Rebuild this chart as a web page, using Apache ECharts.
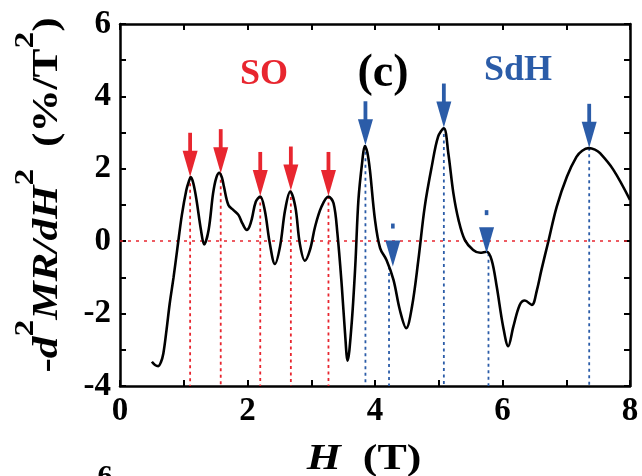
<!DOCTYPE html>
<html>
<head>
<meta charset="utf-8">
<script src="https://cdn.jsdelivr.net/npm/echarts@6/dist/echarts.min.js"></script>
<style>
html,body{margin:0;padding:0;background:#fff;}
#c{width:642px;height:476px;}
</style>
</head>
<body>
<div id="c"></div>
<script>
// Field H (T)
const H = [0.50,0.55,0.60,0.64,0.68,0.73,0.78,0.84,0.90,0.97,1.04,1.08,1.11,1.15,1.20,1.27,1.32,1.39,1.46,1.51,1.56,1.60,1.63,1.70,1.78,1.86,1.92,1.99,2.03,2.07,2.13,2.20,2.27,2.35,2.43,2.51,2.59,2.67,2.75,2.82,2.90,2.98,3.06,3.16,3.27,3.35,3.41,3.48,3.53,3.57,3.63,3.69,3.74,3.80,3.84,3.88,3.92,4.00,4.08,4.18,4.29,4.39,4.49,4.58,4.68,4.78,4.89,4.99,5.08,5.15,5.23,5.31,5.41,5.54,5.65,5.75,5.83,5.91,6.01,6.09,6.17,6.27,6.35,6.46,6.54,6.61,6.72,6.85,7.01,7.16,7.25,7.35,7.45,7.53,7.74,8.00];
// -d2MR/dH2 (%/T^2)
const D2MR = [-3.33,-3.42,-3.45,-3.35,-3.10,-2.45,-1.72,-1.00,-0.20,0.72,1.41,1.65,1.77,1.60,1.14,0.31,-0.09,0.31,1.32,1.75,1.89,1.75,1.51,1.00,0.86,0.72,0.49,0.31,0.40,0.63,1.09,1.23,0.86,-0.06,-0.63,-0.15,0.86,1.37,0.95,-0.06,-0.54,-0.24,0.40,0.95,1.23,1.05,0.22,-1.26,-2.54,-3.30,-2.36,-0.70,1.14,2.20,2.63,2.45,1.97,0.59,-0.19,-0.52,-1.07,-1.90,-2.40,-1.81,-0.52,0.95,2.06,2.89,3.12,2.43,1.32,0.59,0.03,-0.24,-0.32,-0.29,-0.52,-1.26,-2.36,-2.90,-2.36,-1.76,-1.64,-1.76,-1.35,-0.80,0.00,0.95,1.78,2.33,2.50,2.57,2.53,2.43,1.97,1.14];

// SO peaks (red arrows)
const soH = [1.10, 1.58, 2.20, 2.68, 3.27];
const soV = [1.78, 1.88, 1.25, 1.40, 1.25];
// SdH features (blue arrows)
const sdhH = [3.85, 4.22, 5.08, 5.78, 7.36];
const sdhArrowH = [3.85, 4.28, 5.08, 5.75, 7.36];
const sdhV = [2.65, -0.70, 3.14, -0.33, 2.58];
const sdhTentative = [0, 1, 0, 1, 0];

const xTicks = [0, 2, 4, 6, 8];
const yTicks = [-4, -2, 0, 2, 4, 6];

const RED = '#e8262f';
const BLUE = '#2b5ca8';
const FONT = 'Liberation Serif';

const chart = echarts.init(document.getElementById('c'), null, {renderer: 'canvas'});

function xLabel(v) { return xTicks.indexOf(v) >= 0 ? String(v) : ''; }
function yLabel(v) { return yTicks.indexOf(v) >= 0 ? String(v) : ''; }

const axisCommon = {
  axisLine: {show: true, onZero: false, lineStyle: {color: '#000', width: 2.5}},
  axisTick: {show: true, inside: true, length: 6, lineStyle: {color: '#000', width: 2}},
  splitLine: {show: false}
};

function vLine(color) {
  return function (params, api) {
    const p1 = api.coord([api.value(0), api.value(1)]);
    const p2 = api.coord([api.value(0), -4]);
    return {type: 'line', shape: {x1: p1[0], y1: p1[1], x2: p2[0], y2: p2[1]},
      style: {stroke: color, lineWidth: 1.8, lineDash: [3, 3.5]}};
  };
}

function arrow(color) {
  return function (params, api) {
    const p = api.coord([api.value(0), api.value(1)]);
    const tentative = api.value(2);
    const hw = 7.5, hh = 26;
    const children = [{
      type: 'polygon',
      shape: {points: [[p[0] - hw, p[1] - hh], [p[0] + hw, p[1] - hh], [p[0], p[1]]]},
      style: {fill: color}
    }];
    if (tentative) {
      children.push({type: 'rect', shape: {x: p[0] - 1.8, y: p[1] - 43, width: 3.6, height: 5}, style: {fill: color}});
    } else {
      children.push({type: 'rect', shape: {x: p[0] - 1.9, y: p[1] - 44, width: 3.8, height: 19}, style: {fill: color}});
    }
    return {type: 'group', children: children};
  };
}

// Build a text run with superscripts (measured with canvas)
const mctx = document.createElement('canvas').getContext('2d');
function measure(t, font) { mctx.font = font; return mctx.measureText(t).width; }
const FN = 'bold 36px "Liberation Serif"';
const FI = 'italic bold 36px "Liberation Serif"';
const FS = 'bold 28px "Liberation Serif"';
const yTitleTokens = [['-', FN, 0], ['d', FI, 0], ['2', FS, 1], ['MR/dH', FI, 0], ['2', FS, 1], ['  (%/T', FN, 0], ['2', FS, 1], [')', FN, 0]];
function buildRun(tokens) {
  let total = 0;
  const widths = tokens.map(t => { const w = measure(t[0], t[1]); total += w; return w; });
  let x = -total / 2;
  return tokens.map((t, i) => {
    const el = {type: 'text', x: x, y: t[2] ? -22 : 0,
      style: {text: t[0], font: t[1], fill: '#000', align: 'left', verticalAlign: 'middle'}};
    x += widths[i];
    return el;
  });
}

const labelFont = {color: '#000', fontFamily: FONT, fontWeight: 'bold', fontSize: 33};

const option = {
  animation: false,
  backgroundColor: '#fff',
  grid: {left: 120, right: 12, top: 24, bottom: 90, containLabel: false},
  xAxis: [
    Object.assign({}, axisCommon, {
      type: 'value', position: 'bottom', min: 0, max: 8, interval: 1,
      axisLabel: Object.assign({show: true, margin: 9, formatter: xLabel}, labelFont)
    }),
    Object.assign({}, axisCommon, {
      type: 'value', position: 'top', min: 0, max: 8, interval: 1,
      axisLabel: {show: false}
    })
  ],
  yAxis: [
    Object.assign({}, axisCommon, {
      type: 'value', position: 'left', min: -4, max: 6, interval: 1,
      axisLabel: Object.assign({show: true, margin: 9, formatter: yLabel}, labelFont)
    }),
    Object.assign({}, axisCommon, {
      type: 'value', position: 'right', min: -4, max: 6, interval: 1,
      axisLabel: {show: false}
    })
  ],
  series: [
    {
      type: 'custom', name: 'SO lines', renderItem: vLine(RED), z: 2,
      data: soH.map((h, i) => [h, soV[i]])
    },
    {
      type: 'custom', name: 'SdH lines', renderItem: vLine(BLUE), z: 2,
      data: sdhH.map((h, i) => [h, sdhV[i]])
    },
    {
      type: 'line', name: 'curve', showSymbol: false, smooth: 0.35, z: 5,
      lineStyle: {color: '#000', width: 2.6},
      data: H.map((h, i) => [h, D2MR[i]]),
      markLine: {silent: true, symbol: 'none', label: {show: false},
        lineStyle: {color: RED, width: 1.6, type: [3, 5]},
        data: [{yAxis: 0}]}
    },
    {
      type: 'custom', name: 'SO arrows', renderItem: arrow(RED), z: 6,
      data: soH.map((h, i) => [h, soV[i], 0])
    },
    {
      type: 'custom', name: 'SdH arrows', renderItem: arrow(BLUE), z: 6,
      data: sdhArrowH.map((h, i) => [h, sdhV[i], sdhTentative[i]])
    }
  ],
  graphic: [
    // y-axis title (rotated, with superscripts)
    {type: 'group', x: 48, y: 195, rotation: Math.PI / 2, scaleX: 1.2,
      children: buildRun(yTitleTokens)},
    // x-axis title
    {type: 'text', x: 364, y: 460, scaleX: 1.22,
      style: {
        text: '{i|H}{n|  (T)}', align: 'center', verticalAlign: 'middle',
        rich: {
          i: {fontFamily: FONT, fontWeight: 'bold', fontStyle: 'italic', fontSize: 36, fill: '#000', lineHeight: 36},
          n: {fontFamily: FONT, fontWeight: 'bold', fontSize: 36, fill: '#000', lineHeight: 36}
        }
      }},
    {type: 'text', x: 264, y: 75, style: {text: 'SO', fill: RED, font: 'bold 36px "Liberation Serif"', align: 'center', verticalAlign: 'middle'}},
    {type: 'text', x: 383, y: 74, style: {text: '(c)', fill: '#000', font: 'bold 46px "Liberation Serif"', align: 'center', verticalAlign: 'middle'}},
    {type: 'text', x: 518, y: 71, style: {text: 'SdH', fill: BLUE, font: 'bold 36px "Liberation Serif"', align: 'center', verticalAlign: 'middle'}},
    {type: 'text', x: 105, y: 462, style: {text: '6', fill: '#000', font: 'bold 30px "Liberation Serif"', align: 'center', verticalAlign: 'top'}}
  ]
};
chart.setOption(option);
</script>
</body>
</html>
